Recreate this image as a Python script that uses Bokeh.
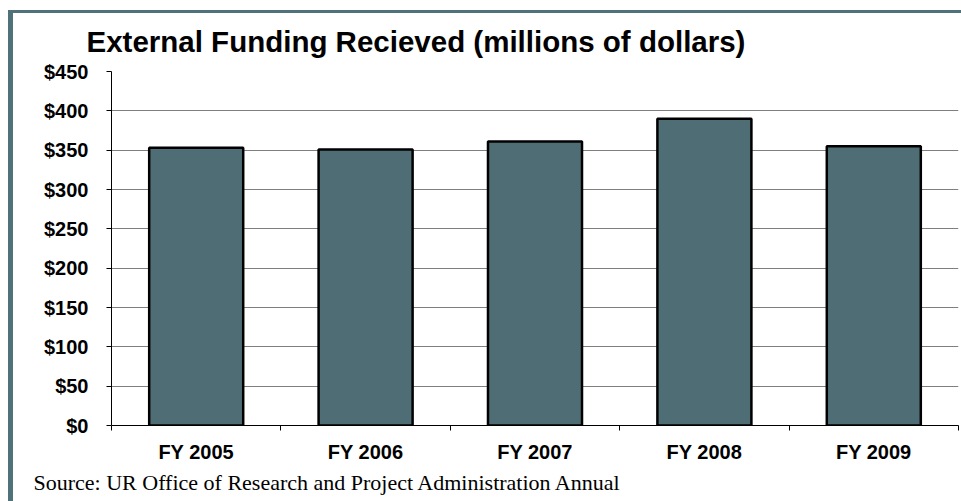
from bokeh.plotting import figure
from bokeh.models import Range1d, FixedTicker, Title, ColumnDataSource
from bokeh.embed import file_html
from bokeh.resources import INLINE

# ---- data ----
categories = ["FY 2005", "FY 2006", "FY 2007", "FY 2008", "FY 2009"]
funding = [353, 351, 361, 390, 355]  # millions of dollars
y_ticks = [0, 50, 100, 150, 200, 250, 300, 350, 400, 450]
y_labels = ["$0", "$50", "$100", "$150", "$200", "$250", "$300", "$350", "$400", "$450"]
grid_ticks = [50, 100, 150, 200, 250, 300, 350, 400]

positions = list(range(1, len(categories) + 1))
boundaries = [p_ - 0.5 for p_ in positions] + [positions[-1] + 0.5]

src = ColumnDataSource(dict(x=positions, top=funding, cat=categories))

FRAME = "#50707a"
BAR = "#4e6d75"

p = figure(width=961, height=501, output_backend="svg", toolbar_location=None,
           x_range=Range1d(0.5, len(categories) + 0.5), y_range=Range1d(0, 450),
           min_border_left=111, min_border_right=3, min_border_top=71, min_border_bottom=76)
# page frame: a top rule and a left rule drawn behind the transparent canvas
p.styles = {
    "background": (f"linear-gradient({FRAME},{FRAME}) 8px 10px / 953px 3px no-repeat, "
                   f"linear-gradient({FRAME},{FRAME}) 8px 10px / 5px 491px no-repeat, #ffffff"),
}
p.outline_line_color = None
p.background_fill_color = "white"
p.border_fill_color = None

p.vbar(x="x", top="top", width=0.555, bottom=0, source=src,
       fill_color=BAR, line_color="black", line_width=2.5)

# title
p.title.text = ""
t = Title(text="External Funding Recieved (millions of dollars)", align="left",
          text_font="Liberation Sans", text_font_style="bold", text_font_size="29.5px",
          text_color="black", offset=-25, standoff=28)
p.add_layout(t, "above")

# source note
s = Title(text="Source: UR Office of Research and Project Administration Annual", align="left",
          text_font="Liberation Serif", text_font_style="normal", text_font_size="22px",
          text_color="black", offset=-78, standoff=4)
p.add_layout(s, "below")

# y axis
p.yaxis.ticker = FixedTicker(ticks=y_ticks)
p.yaxis.major_label_overrides = {v: l for v, l in zip(y_ticks, y_labels)}
p.yaxis.major_label_text_font = "Liberation Sans"
p.yaxis.major_label_text_font_style = "bold"
p.yaxis.major_label_text_font_size = "20px"
p.yaxis.major_label_text_color = "black"
p.yaxis.major_tick_out = 5
p.yaxis.major_tick_in = 0
p.yaxis.minor_tick_line_color = None
p.yaxis.axis_line_color = "black"
p.yaxis.major_tick_line_color = "black"
p.yaxis.major_label_standoff = 18

# x axis
p.xaxis.ticker = FixedTicker(ticks=positions, minor_ticks=boundaries)
p.xaxis.major_label_overrides = {v: c for v, c in zip(positions, categories)}
p.xaxis.major_label_text_font = "Liberation Sans"
p.xaxis.major_label_text_font_style = "bold"
p.xaxis.major_label_text_font_size = "20px"
p.xaxis.major_label_text_color = "black"
p.xaxis.major_tick_line_color = None
p.xaxis.major_tick_out = 0
p.xaxis.major_tick_in = 0
p.xaxis.minor_tick_out = 5
p.xaxis.minor_tick_in = 0
p.xaxis.minor_tick_line_color = "black"
p.xaxis.axis_line_color = "black"
p.xaxis.major_label_standoff = 10

# grid
p.xgrid.grid_line_color = None
p.ygrid.ticker = FixedTicker(ticks=grid_ticks)
p.ygrid.grid_line_color = "#7f7f7f"
p.ygrid.grid_line_width = 1

open("out.html", "w").write(file_html(p, INLINE))
